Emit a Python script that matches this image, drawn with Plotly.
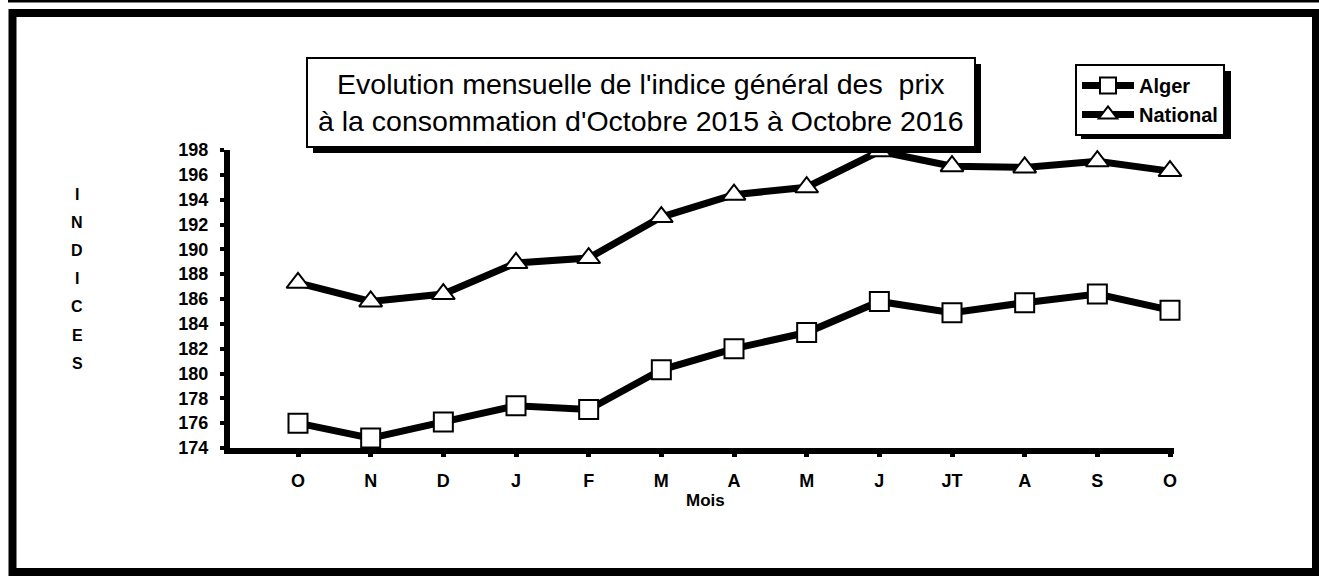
import plotly.graph_objects as go

# ---- data ----
months = ["O", "N", "D", "J", "F", "M", "A", "M", "J", "JT", "A", "S", "O"]
alger = [176.0, 174.8, 176.1, 177.4, 177.1, 180.3, 182.0, 183.3, 185.8, 184.9, 185.7, 186.4, 185.1]
national = [187.3, 185.8, 186.4, 188.9, 189.3, 192.6, 194.4, 195.0, 197.9, 196.7, 196.6, 197.1, 196.3]
y_ticks = list(range(174, 199, 2))
title_lines = ["Evolution mensuelle de l'indice général des  prix",
               "à la consommation d'Octobre 2015 à Octobre 2016"]

# ---- geometry ----
WIDTH, HEIGHT = 1319, 576
L, R, T, B = 230, 145, 150, 128
PW = WIDTH - L - R
PH = HEIGHT - T - B


def px(x):
    return (x - L) / PW


def py(y):
    return (HEIGHT - B - y) / PH


FONT = "Liberation Sans, Arial, sans-serif"
x_idx = list(range(len(months)))

fig = go.Figure()
fig.add_trace(go.Scatter(
    x=x_idx, y=alger, name="Alger", mode="lines+markers",
    line=dict(color="black", width=7),
    marker=dict(symbol="square", size=19, color="white", line=dict(color="black", width=2)),
    cliponaxis=False,
))
fig.add_trace(go.Scatter(
    x=x_idx, y=national, name="National", mode="lines+markers",
    line=dict(color="black", width=7),
    marker=dict(symbol="triangle-up", size=20, color="white", line=dict(color="black", width=2)),
    cliponaxis=False,
))

shapes = []
# outer frame and top rule
shapes.append(dict(type="rect", xref="paper", yref="paper",
                   x0=px(12.5), x1=px(1316), y0=py(13), y1=py(572),
                   line=dict(color="black", width=8), fillcolor="rgba(0,0,0,0)", layer="above"))
shapes.append(dict(type="line", xref="paper", yref="paper",
                   x0=px(8), x1=px(1319), y0=py(1), y1=py(1),
                   line=dict(color="black", width=3), layer="above"))
# title box with shadow
shapes.append(dict(type="rect", xref="paper", yref="paper",
                   x0=px(313), x1=px(981), y0=py(64), y1=py(153),
                   line=dict(width=0), fillcolor="black", layer="above"))
shapes.append(dict(type="rect", xref="paper", yref="paper",
                   x0=px(307), x1=px(975), y0=py(58), y1=py(147),
                   line=dict(color="black", width=2), fillcolor="white", layer="above"))
# legend shadow
shapes.append(dict(type="rect", xref="paper", yref="paper",
                   x0=px(1081), x1=px(1231), y0=py(71), y1=py(139),
                   line=dict(width=0), fillcolor="black", layer="above"))

annotations = []
annotations.append(dict(xref="paper", yref="paper", x=px(641), y=py(102),
                        text="<br>".join(title_lines), showarrow=False,
                        xanchor="center", yanchor="middle", align="center",
                        font=dict(family=FONT, size=28.5, color="black")))
for i, ch in enumerate("INDICES"):
    annotations.append(dict(xref="paper", yref="paper", x=px(77), y=py(194 + i * 28.2),
                            text=ch, showarrow=False, xanchor="center", yanchor="middle",
                            font=dict(family=FONT, size=16, color="black", weight="bold")))
annotations.append(dict(xref="paper", yref="paper", x=px(705), y=py(500),
                        text="Mois", showarrow=False, xanchor="center", yanchor="middle",
                        font=dict(family=FONT, size=17, color="black", weight="bold")))

fig.update_layout(
    width=WIDTH, height=HEIGHT,
    margin=dict(l=L, r=R, t=T, b=B, autoexpand=False),
    paper_bgcolor="white", plot_bgcolor="white",
    shapes=shapes, annotations=annotations,
    showlegend=True,
    legend=dict(x=px(1075), y=py(64), xanchor="left", yanchor="top",
                bgcolor="white", bordercolor="black", borderwidth=2,
                font=dict(family=FONT, size=20, color="black", weight="bold"),
                itemwidth=52, tracegroupgap=0),
    xaxis=dict(range=[-0.9358, 12.055], tickmode="array", tickvals=x_idx, ticktext=months,
               showgrid=False, zeroline=False, showline=True, linecolor="black", linewidth=6,
               ticks="outside", ticklen=3, tickwidth=5, tickcolor="black",
               ticklabelstandoff=8,
               tickfont=dict(family=FONT, size=18, color="black", weight="bold")),
    yaxis=dict(range=[174, 198], tickmode="array", tickvals=y_ticks,
               showgrid=False, zeroline=False, showline=True, linecolor="black", linewidth=6,
               ticks="outside", ticklen=4, tickwidth=4, tickcolor="black",
               ticklabelstandoff=8,
               tickfont=dict(family=FONT, size=18, color="black", weight="bold")),
)

fig.write_html("out.html", config={"displayModeBar": False},
               post_script="document.body.style.margin='0';document.body.style.overflow='hidden';")
